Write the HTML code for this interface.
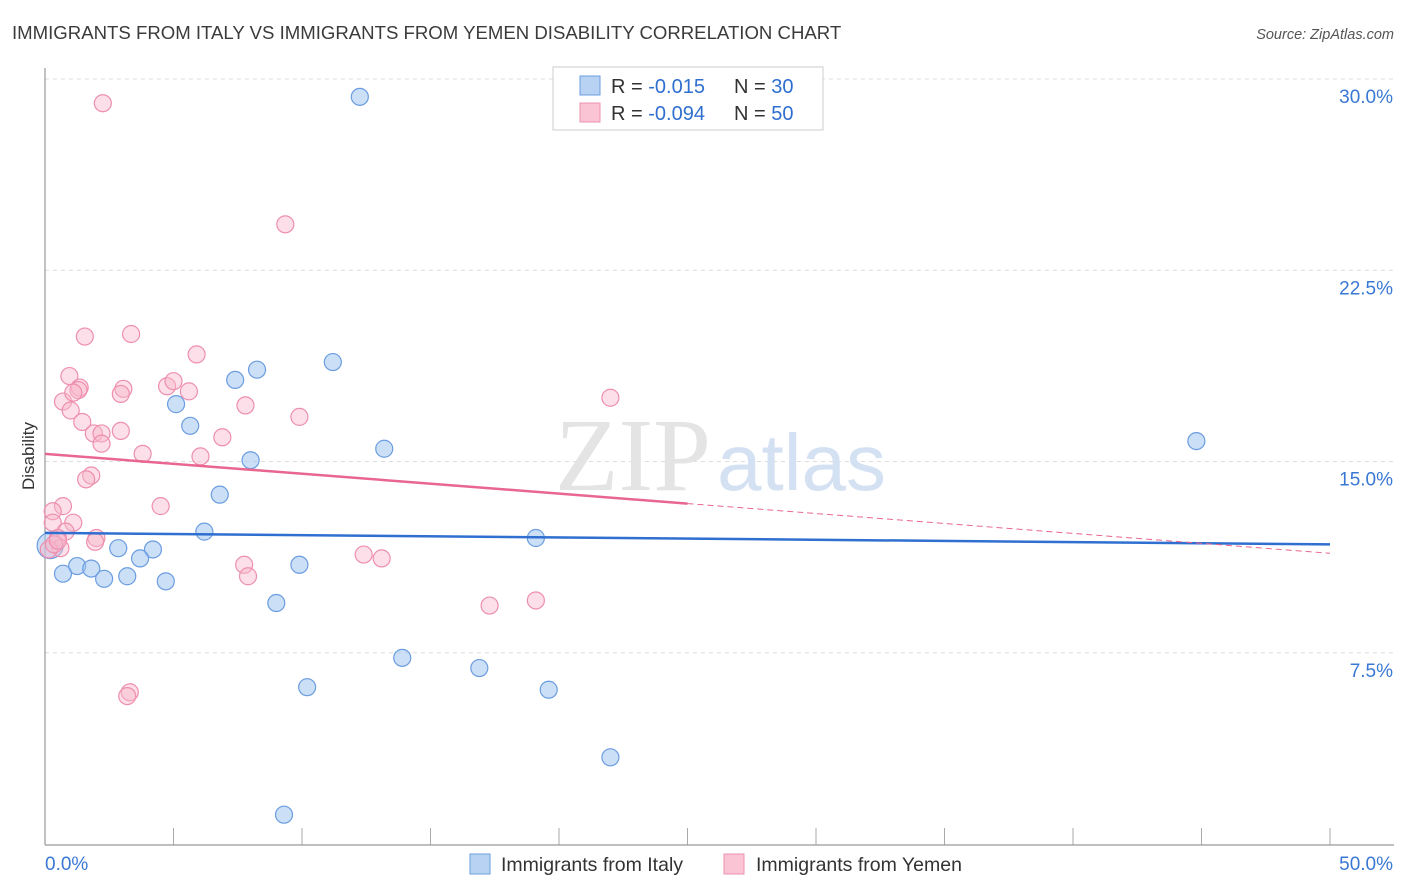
<!DOCTYPE html>
<html><head><meta charset="utf-8"><style>
body{margin:0;background:#fff;font-family:"Liberation Sans",sans-serif}
svg{display:block}
</style></head><body>
<svg id="chart" width="1406" height="892" viewBox="0 0 1406 892" xmlns="http://www.w3.org/2000/svg">
<text x="12" y="39" font-size="18.6" fill="#3b3b3b">IMMIGRANTS FROM ITALY VS IMMIGRANTS FROM YEMEN DISABILITY CORRELATION CHART</text>
<text x="1394" y="39" font-size="14.5" fill="#555" text-anchor="end" font-style="italic">Source: ZipAtlas.com</text>
<g id="grid"></g>
<text x="555" y="490" font-size="104" fill="#e4e4e4" font-family="Liberation Serif, serif">ZIP<tspan fill="#d4e1f3" font-family="Liberation Sans, sans-serif" font-size="80" dx="6">atlas</tspan></text>
<line x1="45" y1="68" x2="45" y2="845" stroke="#999" stroke-width="1.2"/>
<line x1="45" y1="845" x2="1394" y2="845" stroke="#999" stroke-width="1.2"/>
<text transform="translate(34,456) rotate(-90)" text-anchor="middle" font-size="17" fill="#333">Disability</text>
<g id="points"></g>
<g id="trends"></g>
<g>
<rect x="553" y="67" width="270" height="63" fill="#fff" stroke="#ccc"/>
<rect x="580" y="76" width="20" height="19" fill="#b8d2f3" stroke="#6b9de0"/>
<rect x="580" y="103" width="20" height="19" fill="#fac4d4" stroke="#ee8fae"/>
<text x="611" y="93" font-size="20" fill="#333">R = <tspan fill="#2f6fd0"> -0.015</tspan><tspan x="734">N = </tspan><tspan fill="#2f6fd0">30</tspan></text>
<text x="611" y="120" font-size="20" fill="#333">R = <tspan fill="#2f6fd0">-0.094</tspan><tspan x="734">N = </tspan><tspan fill="#2f6fd0">50</tspan></text>
</g>
<g>
<rect x="470" y="854" width="20" height="20" fill="#b8d2f3" stroke="#6b9de0"/>
<text x="501" y="871" font-size="19.5" fill="#333">Immigrants from Italy</text>
<rect x="724" y="854" width="20" height="20" fill="#fac4d4" stroke="#ee8fae"/>
<text x="756" y="871" font-size="19.5" fill="#333">Immigrants from Yemen</text>
</g>
<text x="45" y="870" font-size="19" fill="#3a78d4">0.0%</text>
<text x="1393" y="870" font-size="19" fill="#3a78d4" text-anchor="end">50.0%</text>
</svg>
<script>
const yTicks=[30,22.5,15,7.5];
const yTickLabels=["30.0%","22.5%","15.0%","7.5%"];
const italyX=[12.25,7.4,8.25,11.2,5.1,5.65,8.0,13.2,44.8,6.8,6.2,19.1,2.85,4.2,3.7,9.9,1.25,1.8,0.7,2.3,3.2,4.7,9.0,13.9,16.9,10.2,19.6,22.0,9.3,0.2];
const italyY=[29.3,18.2,18.6,18.9,17.25,16.4,15.05,15.5,15.8,13.7,12.25,12.0,11.6,11.55,11.2,10.95,10.9,10.8,10.6,10.4,10.5,10.3,9.45,7.3,6.9,6.15,6.05,3.4,1.15,11.7];
const yemenX=[2.25,9.35,1.55,3.35,5.9,0.95,1.35,1.3,3.05,2.95,4.75,5.0,5.6,0.7,1.1,1.0,1.45,7.8,9.9,22.0,1.9,2.2,2.95,6.9,2.2,3.8,6.05,1.8,1.6,4.5,0.7,0.3,0.3,1.1,0.8,2.0,1.95,0.5,0.6,0.15,7.75,7.9,12.4,13.1,17.3,19.1,3.3,3.2,0.35,0.5];
const yemenY=[29.05,24.3,19.9,20.0,19.2,18.35,17.9,17.8,17.85,17.65,17.95,18.15,17.75,17.35,17.7,17.0,16.55,17.2,16.75,17.5,16.1,16.1,16.2,15.95,15.7,15.3,15.2,14.45,14.3,13.25,13.25,13.05,12.6,12.6,12.25,12.0,11.85,12.0,11.6,11.55,10.95,10.5,11.35,11.2,9.35,9.55,5.95,5.8,11.75,11.9];
const italyTrend=[12.2,11.75];
const yemenTrend=[15.3,11.4];
const yemenSolidEnd=25;
const xTicks=[0,5,10,15,20,25,30,35,40,45,50];
const NS="http://www.w3.org/2000/svg";
const sx=v=>45+v*25.7, sy=v=>844-v*25.5;
function mk(tag,attrs,parent){const e=document.createElementNS(NS,tag);for(const k in attrs)e.setAttribute(k,attrs[k]);parent.appendChild(e);return e;}
const grid=document.getElementById('grid');
yTicks.forEach((t,i)=>{
 const l=mk('line',{x1:45,x2:1394,y1:sy(t),y2:sy(t),stroke:'#ddd','stroke-dasharray':'4,4'},grid);
 
 
 const tx=mk('text',{x:1393,y:sy(t)+24,'font-size':19,fill:'#3a78d4','text-anchor':'end'},grid);
 tx.textContent=yTickLabels[i];
 
 
});
xTicks.forEach(t=>{
 const l=mk('line',{x1:sx(t),x2:sx(t),y1:828,y2:845,stroke:'#aaa'},grid);
 
 
});
const pts=document.getElementById('points');
italyX.forEach((x,i)=>{
 const c=mk('circle',{cx:sx(x),cy:sy(italyY[i]),r:i==italyX.length-1?13:8.5,fill:'rgba(160,196,240,0.55)',stroke:'#6b9de0','stroke-width':1.2},pts);
 
 
});
yemenX.forEach((x,i)=>{
 const c=mk('circle',{cx:sx(x),cy:sy(yemenY[i]),r:8.5,fill:'rgba(248,184,204,0.45)',stroke:'#ee8fae','stroke-width':1.2},pts);
 
 
});
const tr=document.getElementById('trends');
const it=mk('line',{x1:sx(0),y1:sy(italyTrend[0]),x2:sx(50),y2:sy(italyTrend[1]),stroke:'#2f6fd0','stroke-width':2.5},tr);


const ym=y=>yemenTrend[0]+(yemenTrend[1]-yemenTrend[0])*y/50;
const ys=mk('line',{x1:sx(0),y1:sy(yemenTrend[0]),x2:sx(yemenSolidEnd),y2:sy(ym(yemenSolidEnd)),stroke:'#e8668f','stroke-width':2.5},tr);


const yd=mk('line',{x1:sx(yemenSolidEnd),y1:sy(ym(yemenSolidEnd)),x2:sx(50),y2:sy(yemenTrend[1]),stroke:'#e8668f','stroke-width':1,'stroke-dasharray':'6,4'},tr);


</script>
</body></html>
